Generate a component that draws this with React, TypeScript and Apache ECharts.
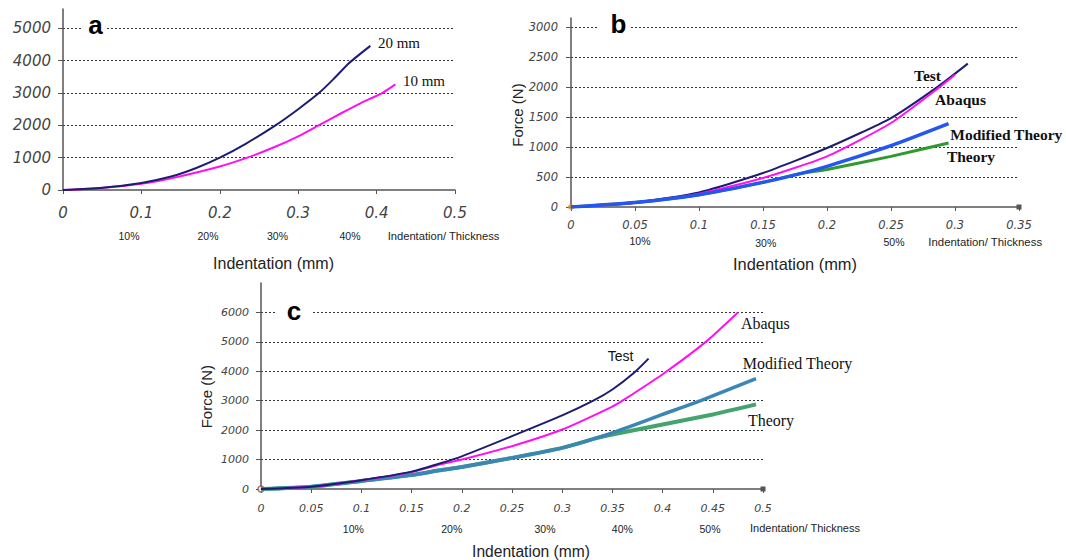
import React, { useEffect, useRef } from "react";
import * as echarts from "echarts";

// ---------- Data (panel a) ----------
const A20_X = [0, 0.05, 0.1, 0.138, 0.17, 0.2, 0.233, 0.271, 0.3, 0.326, 0.345, 0.365, 0.392];
const A20_Y = [0, 70, 220, 415, 680, 1000, 1430, 2000, 2500, 2990, 3430, 3930, 4460];
const A10_X = [0, 0.05, 0.1, 0.138, 0.2, 0.235, 0.27, 0.3, 0.326, 0.356, 0.38, 0.407, 0.424];
const A10_Y = [0, 65, 190, 360, 727, 1000, 1330, 1660, 2000, 2390, 2690, 3000, 3270];

// ---------- Data (panel b) ----------
const B_TEST_X = [0, 0.05, 0.1, 0.15, 0.2, 0.25, 0.287, 0.31];
const B_TEST_Y = [0, 72, 244, 567, 983, 1483, 2011, 2389];
const B_ABAQUS_X = [0, 0.05, 0.1, 0.15, 0.2, 0.25, 0.287, 0.3];
const B_ABAQUS_Y = [0, 67, 222, 483, 844, 1400, 1983, 2205];
const B_MOD_X = [0, 0.05, 0.1, 0.15, 0.18, 0.2, 0.25, 0.295];
const B_MOD_Y = [0, 75, 205, 411, 560, 678, 1022, 1389];
const B_THEORY_X = [0, 0.05, 0.1, 0.15, 0.18, 0.2, 0.25, 0.295];
const B_THEORY_Y = [0, 75, 205, 411, 560, 625, 844, 1067];

// ---------- Data (panel c) ----------
const C_TEST_X = [0, 0.05, 0.1, 0.15, 0.178, 0.2, 0.25, 0.3, 0.331, 0.35, 0.371, 0.386];
const C_TEST_Y = [0, 80, 300, 590, 864, 1110, 1795, 2500, 3000, 3380, 3930, 4430];
const C_ABAQUS_X = [0, 0.05, 0.1, 0.15, 0.178, 0.2, 0.25, 0.3, 0.35, 0.36, 0.4, 0.443, 0.475];
const C_ABAQUS_Y = [0, 75, 300, 580, 830, 1000, 1455, 2020, 2800, 3000, 3900, 5000, 6000];
const C_MOD_X = [0, 0.05, 0.1, 0.15, 0.178, 0.2, 0.25, 0.3, 0.35, 0.4, 0.438, 0.493];
const C_MOD_Y = [0, 80, 272, 476, 636, 750, 1057, 1398, 1909, 2534, 3000, 3750];
const C_THEORY_X = [0, 0.05, 0.1, 0.15, 0.178, 0.2, 0.25, 0.3, 0.335, 0.35, 0.4, 0.45, 0.493];
const C_THEORY_Y = [0, 80, 272, 476, 636, 750, 1057, 1398, 1739, 1852, 2193, 2534, 2875];

const ORIGIN = [[0, 0]];

const A_PERCENT = ["10%", "20%", "30%", "40%"];
const B_PERCENT = ["10%", "30%", "50%"];
const C_PERCENT = ["10%", "20%", "30%", "40%", "50%"];
const RATIO_LABEL = "Indentation/ Thickness";
const X_TITLE = "Indentation (mm)";
const Y_TITLE = "Force (N)";

const zip = (xs: number[], ys: number[]) => xs.map((x, i) => [x, ys[i]]);

const NAVY = "#1c1c70";
const MAGENTA = "#ff10f0";

function txt(text: string, x: number, y: number, o: any = {}) {
  return {
    type: "text",
    x,
    y,
    rotation: o.rotation || 0,
    z: 100,
    style: {
      text,
      fontSize: o.size || 11,
      fontFamily: o.family || "Liberation Sans",
      fontWeight: o.weight || "normal",
      fontStyle: o.style || "normal",
      fill: o.color || "#222",
      align: "center",
      verticalAlign: "middle",
      textAlign: "center",
      textVerticalAlign: "middle",
    },
  };
}

function letter(ch: string, cx: number, cy: number, x0: number, x1: number) {
  return [
    { type: "rect", z: 90, shape: { x: x0, y: cy - 10, width: x1 - x0, height: 20 }, style: { fill: "#fff" } },
    txt(ch, cx, cy, { size: 26, weight: "bold", color: "#000" }),
  ];
}

function xAxis(gridIndex: number, max: number, interval: number, fontSize: number, margin: number, endSymbol: boolean) {
  return {
    type: "value",
    gridIndex,
    min: 0,
    max,
    interval,
    axisLine: {
      show: true,
      lineStyle: { color: "#555", width: 1.5 },
      symbol: endSymbol ? ["none", "rect"] : ["none", "none"],
      symbolSize: [5, 5],
    },
    axisTick: { show: true, length: 4, lineStyle: { color: "#555" } },
    axisLabel: { fontStyle: "italic", fontFamily: "DejaVu Sans", fontSize, color: "#444", margin },
    splitLine: { show: false },
  };
}

function yAxis(gridIndex: number, max: number, interval: number, fontSize: number, margin: number) {
  return {
    type: "value",
    gridIndex,
    min: 0,
    max,
    interval,
    axisLine: { show: true, lineStyle: { color: "#555", width: 1.5 } },
    axisTick: { show: true, length: 5, lineStyle: { color: "#555" } },
    axisLabel: {
      fontStyle: "italic",
      fontFamily: "DejaVu Sans",
      fontSize,
      color: "#444",
      margin,
      showMaxLabel: false,
      formatter: (v: number) => String(v),
    },
    splitLine: {
      show: true,
      showMinLine: false,
      showMaxLine: false,
      lineStyle: { type: [2, 2], color: "#333", width: 1 },
    },
  };
}

function line(data: number[][], idx: number, color: string, width: number) {
  return {
    type: "line",
    xAxisIndex: idx,
    yAxisIndex: idx,
    data,
    smooth: 0.2,
    showSymbol: false,
    symbol: "none",
    lineStyle: { color, width },
    itemStyle: { color },
    silent: true,
  };
}

export default function App() {
  const ref = useRef<HTMLDivElement>(null);
  useEffect(() => {
    if (!ref.current) return;
    const chart = echarts.init(ref.current, undefined, { renderer: "svg" });

    const serifLbl = { size: 15.5, weight: "bold", family: "Liberation Serif", color: "#111" };
    const serifLblC = { size: 16, family: "Liberation Serif", color: "#111" };

    const graphics: any[] = [
      // panel a
      ...letter("a", 95.5, 24.5, 82, 106),
      txt(A_PERCENT[0], 129, 236, { size: 10.5 }),
      txt(A_PERCENT[1], 208, 236, { size: 10.5 }),
      txt(A_PERCENT[2], 277.5, 236, { size: 10.5 }),
      txt(A_PERCENT[3], 350, 236, { size: 10.5 }),
      txt(RATIO_LABEL, 443.5, 236, { size: 11.2 }),
      txt(X_TITLE, 273.5, 263.5, { size: 16 }),
      txt("20 mm", 399, 43, { size: 15, family: "Liberation Serif", color: "#111" }),
      txt("10 mm", 424, 81, { size: 15, family: "Liberation Serif", color: "#111" }),
      // panel b
      ...letter("b", 618.5, 24, 598, 631),
      txt(B_PERCENT[0], 640, 240.7, { size: 10.5 }),
      txt(B_PERCENT[1], 765.7, 243.3, { size: 10.5 }),
      txt(B_PERCENT[2], 894, 241.7, { size: 10.5 }),
      txt(RATIO_LABEL, 985.2, 241.7, { size: 11.4 }),
      txt(X_TITLE, 795, 263.5, { size: 16.4 }),
      txt(Y_TITLE, 517, 115, { size: 15, rotation: Math.PI / 2 }),
      txt("Test", 927.5, 75, serifLbl),
      txt("Abaqus", 960.5, 99.3, serifLbl),
      txt("Modified Theory", 1006.3, 134, serifLbl),
      txt("Theory", 971, 156.7, serifLbl),
      // panel c
      ...letter("c", 294, 311, 277, 313),
      txt(C_PERCENT[0], 353.3, 529.3, { size: 10.5 }),
      txt(C_PERCENT[1], 451.7, 529.3, { size: 10.5 }),
      txt(C_PERCENT[2], 545, 529.3, { size: 10.5 }),
      txt(C_PERCENT[3], 622.3, 529.3, { size: 10.5 }),
      txt(C_PERCENT[4], 710, 529.3, { size: 10.5 }),
      txt(RATIO_LABEL, 805, 528.3, { size: 11 }),
      txt(X_TITLE, 531, 551.7, { size: 15.6 }),
      txt(Y_TITLE, 206.7, 396.7, { size: 15, rotation: Math.PI / 2 }),
      txt("Test", 620.5, 356, { size: 14, family: "Liberation Sans", color: "#111" }),
      txt("Abaqus", 765.4, 323.3, serifLblC),
      txt("Modified Theory", 797.5, 363.3, serifLblC),
      txt("Theory", 771, 420, serifLblC),
    ];

    chart.setOption({
      animation: false,
      backgroundColor: "#fff",
      grid: [
        { left: 63, top: 9, width: 392, height: 181 },
        { left: 571, top: 18, width: 448, height: 189 },
        { left: 261, top: 283, width: 502, height: 206 },
      ],
      xAxis: [
        xAxis(0, 0.5, 0.1, 15, 15, false),
        xAxis(1, 0.35, 0.05, 11.5, 12, true),
        xAxis(2, 0.5, 0.05, 11, 14, true),
      ],
      yAxis: [
        yAxis(0, 5600, 1000, 15, 12),
        yAxis(1, 3150, 500, 11.5, 13),
        yAxis(2, 7000, 1000, 11, 12),
      ],
      series: [
        line(zip(A10_X, A10_Y), 0, MAGENTA, 2),
        line(zip(A20_X, A20_Y), 0, NAVY, 2),

        line(zip(B_THEORY_X, B_THEORY_Y), 1, "#2f9a2f", 3),
        line(zip(B_TEST_X, B_TEST_Y), 1, NAVY, 2),
        line(zip(B_ABAQUS_X, B_ABAQUS_Y), 1, MAGENTA, 2),
        line(zip(B_MOD_X, B_MOD_Y), 1, "#2456f0", 3.5),
        {
          type: "scatter", xAxisIndex: 1, yAxisIndex: 1, data: ORIGIN, symbolSize: 6,
          itemStyle: { color: "#d08a20" }, silent: true,
        },

        line(zip(C_THEORY_X, C_THEORY_Y), 2, "#45a46e", 4),
        line(zip(C_MOD_X, C_MOD_Y), 2, "#3a86b4", 3.5),
        line(zip(C_ABAQUS_X, C_ABAQUS_Y), 2, MAGENTA, 2),
        line(zip(C_TEST_X, C_TEST_Y), 2, NAVY, 2),
        {
          type: "scatter", xAxisIndex: 2, yAxisIndex: 2, data: ORIGIN, symbolSize: 6,
          itemStyle: { color: "#fff", borderColor: "#9a4a4a", borderWidth: 1.5 }, silent: true,
        },
      ],
      graphic: graphics,
    });

    return () => chart.dispose();
  }, []);

  return (
    <div
      ref={ref}
      style={{ position: "fixed", left: 0, top: 0, width: 1066, height: 560, background: "#fff" }}
    />
  );
}
